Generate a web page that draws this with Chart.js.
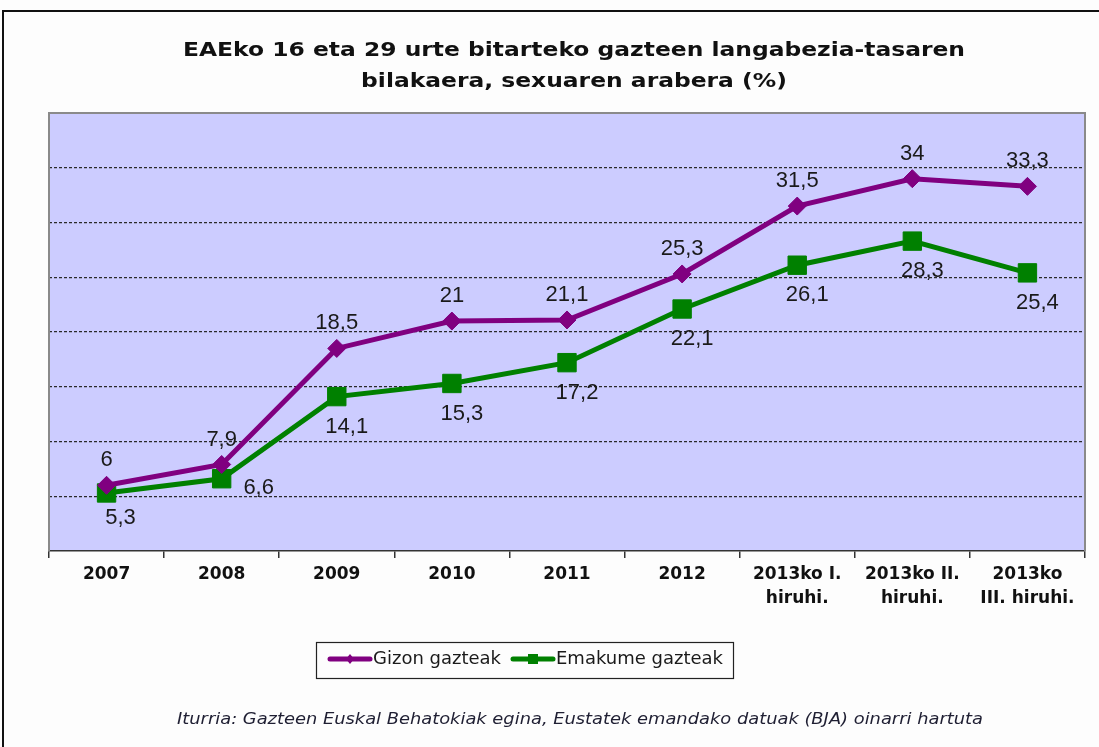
<!DOCTYPE html>
<html lang="eu">
<head>
<meta charset="UTF-8" />
<title>Gazteen langabezia-tasa</title>
<script src="https://cdn.jsdelivr.net/npm/chart.js"></script>
<style>
  html, body { margin: 0; padding: 0; background: #fdfdfd; }
  #wrap { position: relative; width: 1099px; height: 747px; }
</style>
</head>
<body>
<div id="wrap"><canvas id="grafikoa" width="1099" height="747"></canvas></div>
<script>
// datuak
const urteak = [
  '2007', '2008', '2009', '2010', '2011', '2012',
  ['2013ko I.', 'hiruhi.'], ['2013ko II.', 'hiruhi.'], ['2013ko', 'III. hiruhi.']
];
const gizonak = [6, 7.9, 18.5, 21, 21.1, 25.3, 31.5, 34, 33.3];
const emakumeak = [5.3, 6.6, 14.1, 15.3, 17.2, 22.1, 26.1, 28.3, 25.4];

const izenburua = ['EAEko 16 eta 29 urte bitarteko gazteen langabezia-tasaren', 'bilakaera, sexuaren arabera (%)'];
const iturria = 'Iturria: Gazteen Euskal Behatokiak egina, Eustatek emandako datuak (BJA) oinarri hartuta';

const MOREA = '#800080';
const BERDEA = '#008000';

function zenbakia(v) {
  return String(v).replace('.', ',');
}

// testua horizontalki luzatuta (jatorrizkoa zabalagoa da)
function testuZabala(ctx, testua, x, y, eskala) {
  ctx.save();
  ctx.translate(x, y);
  ctx.scale(eskala, 1);
  ctx.fillText(testua, 0, 0);
  ctx.restore();
}

// marrazketa osagarria: atzealdea, etiketak, izenburua, legenda
const apaingarriak = {
  id: 'apaingarriak',
  beforeDraw(chart) {
    const { ctx, chartArea: a } = chart;
    ctx.save();
    ctx.fillStyle = '#fdfdfd';
    ctx.fillRect(0, 0, chart.width, chart.height);
    // kanpoko ertza
    ctx.strokeStyle = '#111';
    ctx.lineWidth = 2;
    ctx.beginPath();
    ctx.moveTo(3, 760);
    ctx.lineTo(3, 11);
    ctx.lineTo(1110, 11);
    ctx.stroke();
    ctx.fillStyle = '#ccccff';
    ctx.fillRect(a.left, a.top, a.right - a.left, a.bottom - a.top);
    ctx.restore();
  },
  afterDraw(chart) {
    const { ctx, chartArea: a } = chart;
    ctx.save();
    ctx.strokeStyle = '#8a8a8a';
    ctx.lineWidth = 2;
    ctx.beginPath();
    ctx.moveTo(a.left, a.bottom);
    ctx.lineTo(a.left, a.top);
    ctx.lineTo(a.right, a.top);
    ctx.lineTo(a.right, a.bottom);
    ctx.stroke();

    // izenburua
    ctx.fillStyle = '#111';
    ctx.font = 'bold 20px "DejaVu Sans"';
    ctx.textAlign = 'center';
    ctx.textBaseline = 'middle';
    testuZabala(ctx, izenburua[0], 574, 51, 1.17);
    testuZabala(ctx, izenburua[1], 574, 82, 1.17);

    // datu etiketak
    ctx.font = '22px "Liberation Sans"';
    ctx.fillStyle = '#1a1a1a';
    chart.data.datasets.forEach((ds, d) => {
      const meta = chart.getDatasetMeta(d);
      meta.data.forEach((p, i) => {
        const pos = ds.etiketak[i];
        let dx = 0, dy = -25;
        if (pos === 'behean') { dx = 10; dy = 30; }
        if (pos === 'beheaEskuin') { dx = 14; dy = 25; }
        if (pos === 'eskuin') { dx = 37; dy = 9; }
        ctx.fillText(zenbakia(ds.data[i]), p.x + dx, p.y + dy);
      });
    });

    // legenda
    ctx.strokeStyle = '#222';
    ctx.lineWidth = 1.2;
    ctx.strokeRect(316.5, 642.5, 417, 36);
    const sarrerak = [
      { x: 330, testua: 'Gizon gazteak', kolorea: MOREA, forma: 'diamantea' },
      { x: 513, testua: 'Emakume gazteak', kolorea: BERDEA, forma: 'karratua' }
    ];
    ctx.font = '18px "DejaVu Sans"';
    ctx.textAlign = 'left';
    sarrerak.forEach(s => {
      const y = 659;
      ctx.strokeStyle = s.kolorea;
      ctx.lineWidth = 5;
      ctx.lineCap = 'round';
      ctx.beginPath();
      ctx.moveTo(s.x, y);
      ctx.lineTo(s.x + 40, y);
      ctx.stroke();
      ctx.fillStyle = s.kolorea;
      ctx.beginPath();
      if (s.forma === 'diamantea') {
        ctx.moveTo(s.x + 20, y - 5);
        ctx.lineTo(s.x + 24, y);
        ctx.lineTo(s.x + 20, y + 5);
        ctx.lineTo(s.x + 16, y);
        ctx.closePath();
      } else {
        ctx.rect(s.x + 15, y - 5, 10, 10);
      }
      ctx.fill();
      ctx.fillStyle = '#1a1a1a';
      ctx.fillText(s.testua, s.x + 43, y);
    });

    // iturria
    ctx.font = 'italic 15px "DejaVu Sans"';
    ctx.textAlign = 'center';
    ctx.fillStyle = '#1f1f33';
    testuZabala(ctx, iturria, 580, 720, 1.19);
    ctx.restore();
  }
};

new Chart(document.getElementById('grafikoa'), {
  type: 'line',
  data: {
    labels: urteak,
    datasets: [
      {
        label: 'Gizon gazteak',
        data: gizonak,
        borderColor: MOREA,
        backgroundColor: MOREA,
        borderWidth: 5,
        pointStyle: 'rectRot',
        pointRadius: 9,
        pointBorderWidth: 1,
        tension: 0,
        etiketak: ['goian', 'goian', 'goian', 'goian', 'goian', 'goian', 'goian', 'goian', 'goian']
      },
      {
        label: 'Emakume gazteak',
        data: emakumeak,
        borderColor: BERDEA,
        backgroundColor: BERDEA,
        borderWidth: 5,
        pointStyle: 'rect',
        pointRadius: 13,
        pointBorderWidth: 1,
        tension: 0,
        etiketak: ['beheaEskuin', 'eskuin', 'behean', 'behean', 'behean', 'behean', 'behean', 'behean', 'behean']
      }
    ]
  },
  options: {
    responsive: false,
    animation: false,
    devicePixelRatio: 1,
    layout: { padding: { left: 49, top: 113, right: 13, bottom: 126 } },
    plugins: {
      legend: { display: false },
      title: { display: false },
      tooltip: { enabled: false }
    },
    scales: {
      x: {
        offset: true,
        grid: {
          offset: true,
          drawOnChartArea: false,
          drawTicks: true,
          tickLength: 7,
          color: '#333',
          lineWidth: 1.5
        },
        border: { display: true, color: '#333', width: 1.5 },
        ticks: {
          color: '#111',
          font: { family: 'DejaVu Sans', weight: 'bold', size: 17, lineHeight: 1.4 },
          padding: 5,
          maxRotation: 0,
          autoSkip: false
        },
        afterFit(scale) { scale.height = 70; }
      },
      y: {
        min: 0,
        max: 40,
        ticks: { display: false, stepSize: 5 },
        grid: {
          drawTicks: false,
          lineWidth: 1.3,
          color: c => (c.tick.value === 0 || c.tick.value === 40) ? 'rgba(0,0,0,0)' : '#2a2a2a'
        },
        border: { display: false, dash: [3, 2] },
        afterFit(scale) { scale.width = 0; }
      }
    }
  },
  plugins: [apaingarriak]
});
</script>
</body>
</html>
